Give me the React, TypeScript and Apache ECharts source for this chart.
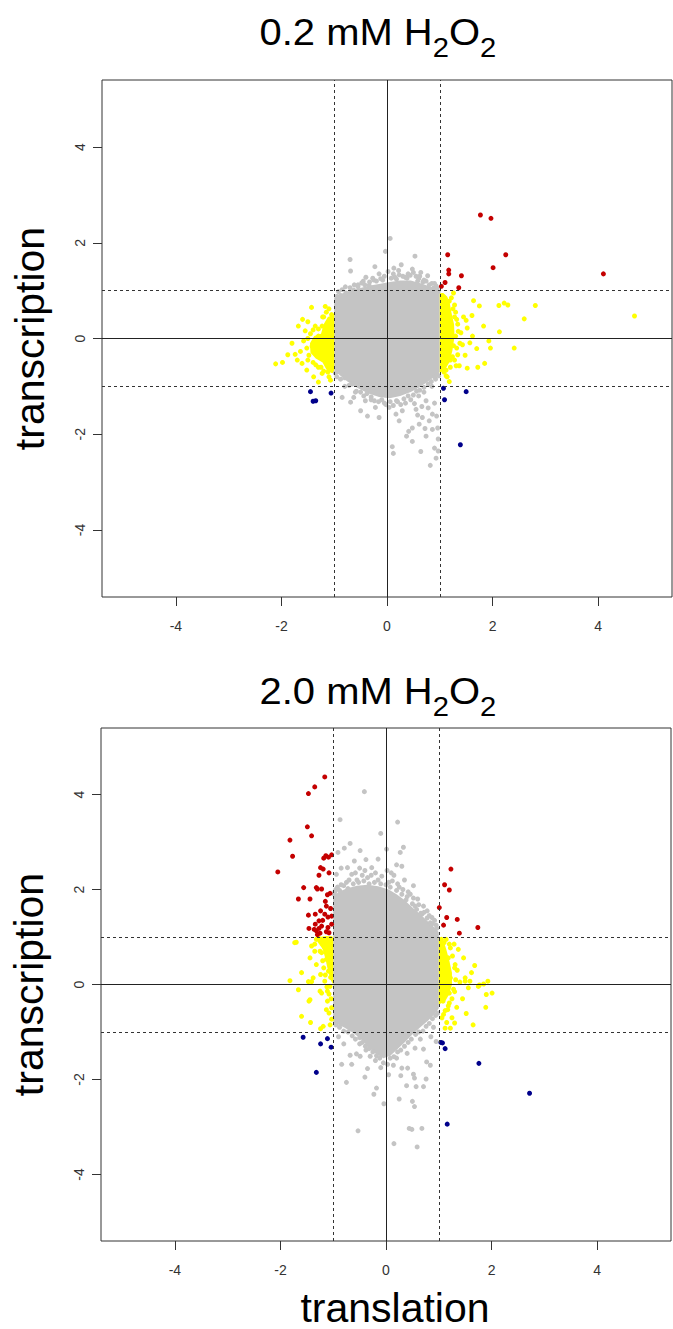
import React, { useEffect, useRef } from "react";
import * as echarts from "echarts";

// ---------- axes ----------
const AXIS_MIN = -5.4;
const AXIS_MAX = 5.4;
const X_TICKS = [-4, -2, 0, 2, 4];
const Y_TICKS = [-4, -2, 0, 2, 4];
const SOLID_LINES = [0];
const DASHED_LINES = [-1, 1];
const PANEL_TITLES = ["0.2 mM H", "2.0 mM H"];
const X_NAME = "translation";
const Y_NAME = "transcription";

// ---------- panel A: 0.2 mM ----------
const A_CORE = [
  [-1, 0.85], [-0.9, 0.92], [-0.75, 0.98], [-0.55, 1.04], [-0.35, 1.1], [-0.15, 1.14],
  [0.05, 1.18], [0.25, 1.21], [0.45, 1.21], [0.65, 1.15], [0.85, 1.07], [1, 1.0],
  [1, -0.7], [0.9, -0.8], [0.75, -0.92], [0.6, -1.03], [0.45, -1.12], [0.25, -1.2], [0.05, -1.25],
  [-0.15, -1.22], [-0.35, -1.15], [-0.55, -1.04], [-0.75, -0.9], [-0.9, -0.76], [-1, -0.66],
];
const A_YEL_R = [
  [1, 0.95], [1.1, 0.92], [1.18, 0.8], [1.22, 0.55], [1.27, 0.3], [1.28, 0.05],
  [1.24, -0.25], [1.18, -0.5], [1.1, -0.65], [1, -0.72],
];
const A_YEL_L = [
  [-1, 0.5], [-1.12, 0.45], [-1.2, 0.3], [-1.25, 0.1], [-1.38, 0.05], [-1.46, -0.1],
  [-1.45, -0.3], [-1.35, -0.42], [-1.22, -0.5], [-1.15, -0.65], [-1.05, -0.72], [-1, -0.72],
];
const A_GRAY = [
  [0.06, 2.09], [-0.03, 1.82], [0.53, 1.72], [-0.7, 1.65], [-0.23, 1.5], [-0.69, 1.41],
  [0.13, 1.47], [0.27, 1.54], [0.64, 1.38], [0.77, 1.31], [0.23, 1.33], [-0.08, 1.22],
  [-0.34, 1.11], [-0.63, 1.01], [-0.76, 0.83], [-0.88, 0.9], [-0.79, 1.08], [0.4, 1.35],
  [0.55, 1.3], [-0.45, 1.2], [0.9, 1.15], [0.95, 1.05], [-0.15, 1.35], [0.02, 1.4],
  [-0.95, 0.88], [0.35, 1.28], [0.7, 1.22], [-0.25, 1.22], [-0.55, 1.12], [0.15, 1.28],
  [0.85, 1.15], [0.48, 1.45], [-0.4, 1.28], [0.6, 1.25],
  [-0.92, 0.98], [-0.85, 1.02], [-0.78, 0.95], [-0.7, 1.06], [-0.62, 1.12], [-0.55, 1.08],
  [-0.48, 1.16], [-0.42, 1.12], [-0.33, 1.18], [-0.27, 1.26], [-0.2, 1.2], [-0.12, 1.25],
  [-0.05, 1.3], [0.08, 1.26], [0.12, 1.35], [0.18, 1.24], [0.22, 1.42], [0.3, 1.3],
  [0.38, 1.26], [0.44, 1.32], [0.5, 1.38], [0.58, 1.2], [0.62, 1.3], [0.68, 1.18],
  [0.74, 1.2], [0.8, 1.12], [0.88, 1.05], [0.93, 1.1], [0.97, 0.98],
  [0.1, -2.26], [0.12, -2.4], [0.37, -2.04], [0.48, -2.15], [0.41, -1.94], [0.64, -2.36],
  [0.82, -2.65], [0.93, -2.5], [0.9, -2.29], [0.74, -2.04], [0.61, -1.79], [0.48, -1.87],
  [0.23, -1.72], [0.17, -1.58], [-0.15, -1.65], [-0.37, -1.62], [-0.5, -1.51], [-0.69, -1.33],
  [-0.85, -1.23], [-0.63, -1.23], [-0.41, -1.3], [-0.22, -1.44], [0.04, -1.44], [0.29, -1.51],
  [0.55, -1.48], [0.74, -1.3], [0.86, -1.58], [0.96, -1.87], [0.8, -1.72], [0.67, -1.65],
  [0.35, -1.35], [-0.05, -1.35], [0.6, -1.2], [0.85, -1.0], [-0.8, -1.0], [-0.95, -0.8],
  [0.97, -2.1], [0.97, -2.35], [0.92, -0.85], [0.2, -1.32], [-0.3, -1.28], [0.45, -1.28],
  [0.7, -1.12], [-0.6, -1.12], [0.98, -0.78], [-0.98, -0.72],
  [-0.95, -0.7], [-0.88, -0.85], [-0.8, -0.82], [-0.72, -0.98], [-0.66, -0.95], [-0.58, -1.1],
  [-0.5, -1.12], [-0.44, -1.2], [-0.38, -1.15], [-0.3, -1.22], [-0.24, -1.3], [-0.16, -1.32],
  [-0.1, -1.28], [-0.02, -1.38], [0.06, -1.32], [0.12, -1.4], [0.18, -1.3], [0.26, -1.38],
  [0.32, -1.26], [0.4, -1.2], [0.5, -1.18], [0.56, -1.1], [0.62, -1.08], [0.7, -1.02],
  [0.78, -0.95], [0.84, -0.9], [0.9, -0.8], [0.95, -0.75], [0.52, -1.36], [0.66, -1.42],
  [0.78, -1.45], [0.9, -1.35], [0.94, -1.62], [0.86, -1.9], [0.72, -1.88], [0.58, -1.6],
];
const A_YELLOW = [
  [4.69, 0.47], [2.81, 0.69], [2.6, 0.41], [2.41, -0.2], [2.12, 0.69], [2.22, 0.74],
  [2.29, 0.7], [2.13, 0.14], [1.83, 0.26], [1.64, 0.79], [1.75, 0.68], [1.61, 0.48],
  [1.5, 0.38], [1.93, -0.05], [1.96, -0.2], [1.85, -0.52], [1.72, -0.6], [1.52, -0.62],
  [1.31, -0.57], [1.37, -0.57], [1.14, -0.8], [1.12, -0.66], [1.7, -0.21], [1.57, -0.09],
  [1.38, -0.1], [1.43, -0.13], [1.4, 0.12], [1.34, 0.3], [1.34, -0.34], [1.24, -0.38],
  [1.05, 0.9], [1.1, 0.85], [1.18, 0.78], [1.25, 0.62], [1.3, 0.55], [1.28, 0.45],
  [1.22, 0.2], [1.3, 0.05], [1.26, -0.15], [1.2, -0.45], [1.08, -0.7], [1.15, 0.5],
  [1.45, 0.45], [1.52, 0.22], [1.62, 0.05], [1.48, -0.35], [1.18, -0.9],
  [1.22, 0.85], [1.28, 0.7], [1.32, 0.4], [1.35, 0.15], [1.32, -0.2], [1.28, -0.45],
  [1.2, -0.6], [1.12, -0.78], [1.26, 0.95],
  [-2.11, -0.53], [-1.98, -0.5], [-1.88, -0.34], [-1.74, -0.33], [-1.64, -0.27], [-1.68, 0.26],
  [-1.43, 0.65], [-1.17, 0.67], [-1.1, 0.62], [-1.36, 0.26], [-1.55, 0.16], [-1.61, -0.52],
  [-1.52, -0.66], [-1.39, -0.8], [-1.23, -0.73], [-1.07, -0.87], [-1.3, -0.91], [-1.42, -0.16],
  [-1.31, -0.3], [-1.17, -0.38], [-1.1, -0.13], [-1.14, 0.12], [-1.23, 0.26], [-1.3, 0.05],
  [-1.5, 0.35], [-1.6, 0.4], [-1.45, 0.1], [-1.58, -0.05], [-1.5, -0.45], [-1.25, -0.6],
  [-1.12, -0.7], [-1.05, 0.5], [-1.2, 0.45], [-1.8, -0.1], [-1.7, -0.45], [-1.35, -0.55],
  [-1.15, 0.55], [-1.22, 0.45], [-1.3, 0.2], [-1.4, 0.18], [-1.5, 0.0], [-1.52, -0.2],
  [-1.48, -0.35], [-1.4, -0.5], [-1.3, -0.6], [-1.2, -0.68], [-1.1, -0.8],
];
const A_RED = [
  [1.77, 2.58], [1.97, 2.51], [2.25, 1.75], [2.01, 1.48], [1.15, 1.75], [1.17, 1.43],
  [1.17, 1.35], [1.41, 1.31], [1.1, 1.17], [1.03, 1.09], [1.36, 1.06], [4.1, 1.35],
];
const A_BLUE = [
  [1.07, -1.04], [1.09, -1.28], [1.5, -1.11], [1.39, -2.22],
  [-1.45, -1.11], [-1.4, -1.31], [-1.35, -1.3], [-1.06, -1.14],
];

// ---------- panel B: 2.0 mM ----------
const B_CORE = [
  [-1, 1.85], [-0.9, 1.95], [-0.75, 2.02], [-0.55, 2.08], [-0.35, 2.1], [-0.15, 2.07],
  [0.05, 2.0], [0.2, 1.9], [0.35, 1.78], [0.5, 1.62], [0.65, 1.48], [0.8, 1.32], [0.92, 1.2],
  [1, 1.1], [1, -0.5], [0.92, -0.62], [0.8, -0.76], [0.65, -0.9], [0.5, -1.05], [0.35, -1.22],
  [0.2, -1.38], [0.08, -1.5], [-0.05, -1.55], [-0.2, -1.45], [-0.35, -1.3], [-0.5, -1.12],
  [-0.65, -1.0], [-0.8, -0.9], [-1, -0.8],
];
const B_YEL_R = [
  [1, 1.0], [1.08, 0.95], [1.14, 0.75], [1.2, 0.5], [1.25, 0.25], [1.25, 0.0],
  [1.2, -0.2], [1.12, -0.35], [1, -0.42],
];
const B_YEL_L = [
  [-1, 1.0], [-1.12, 1.02], [-1.28, 1.0], [-1.3, 0.9], [-1.2, 0.75], [-1.15, 0.55],
  [-1.1, 0.3], [-1.05, 0.1], [-1, 0.0],
];
const B_GRAY = [
  [-0.41, 4.06], [-0.87, 3.47], [0.22, 3.42], [-0.1, 3.18], [0.01, 2.85], [0.33, 2.89],
  [0.27, 2.78], [-0.68, 2.97], [-0.79, 2.87], [-0.91, 2.78], [-0.49, 2.82], [-0.38, 2.63],
  [-0.15, 2.64], [0.2, 2.52], [0.3, 2.49], [-0.73, 2.46], [-0.94, 2.32], [-0.65, 2.32],
  [-0.27, 2.46], [0.52, 2.08], [0.46, 1.9], [0.71, 1.65], [0.87, 1.41], [0.6, 1.8],
  [0.35, 2.2], [0.1, 2.35], [-0.5, 2.45], [-0.85, 2.1], [0.95, 1.25], [0.78, 1.55],
  [-0.95, 2.0], [-0.75, 2.15], [-0.55, 2.2], [-0.35, 2.25], [-0.15, 2.2], [0.05, 2.15],
  [0.25, 2.05], [0.4, 1.85], [-0.6, 2.6], [-0.2, 2.35], [0.15, 2.3], [-0.85, 2.45],
  [-0.45, 2.3], [0.55, 1.65], [0.68, 1.48], [0.84, 1.3], [-0.97, 1.95],
  [-0.98, 1.9], [-0.92, 2.05], [-0.88, 1.98], [-0.8, 2.08], [-0.72, 2.02], [-0.7, 2.2],
  [-0.62, 2.12], [-0.58, 2.35], [-0.52, 2.15], [-0.42, 2.18], [-0.4, 2.4], [-0.32, 2.12],
  [-0.28, 2.3], [-0.22, 2.15], [-0.1, 2.12], [-0.08, 2.28], [0.0, 2.1], [0.02, 2.4],
  [0.08, 2.05], [0.12, 2.18], [0.2, 1.98], [0.22, 2.12], [0.3, 1.9], [0.32, 2.0],
  [0.38, 1.78], [0.42, 1.95], [0.5, 1.7], [0.52, 1.82], [0.58, 1.58], [0.62, 1.68],
  [0.66, 1.5], [0.72, 1.52], [0.78, 1.4], [0.82, 1.45], [0.88, 1.28], [0.92, 1.35], [0.96, 1.18],
  [-0.68, -1.49], [-0.84, -1.68], [-0.75, -2.06], [-0.56, -1.46], [-0.4, -1.95], [-0.35, -1.77],
  [-0.23, -2.31], [-0.18, -2.18], [-0.04, -2.51], [-0.53, -3.08], [0.15, -3.35], [0.25, -2.41],
  [0.14, -1.7], [0.3, -1.76], [0.41, -1.76], [0.28, -1.92], [0.52, -1.89], [0.54, -1.97],
  [0.39, -2.13], [0.57, -2.15], [0.71, -2.15], [0.76, -1.99], [0.77, -1.63], [0.84, -1.7],
  [0.5, -2.46], [0.54, -2.57], [0.44, -3.03], [0.49, -3.05], [0.68, -3.03], [0.59, -3.42],
  [0.55, -1.34], [0.71, -1.36], [-0.65, -1.68], [-0.49, -1.51], [-0.39, -1.3], [-0.3, -1.51],
  [-0.9, -1.1], [-0.8, -1.25], [0.9, -0.9], [0.95, -1.2], [0.85, -1.1], [-0.1, -1.75],
  [0.05, -1.9], [-0.2, -1.6], [0.2, -1.55], [0.4, -1.45], [-0.5, -1.25], [0.65, -1.15],
  [-0.95, -0.85], [-0.88, -0.9], [-0.8, -0.98], [-0.72, -1.0], [-0.64, -1.08], [-0.58, -1.15],
  [-0.5, -1.12], [-0.45, -1.22], [-0.38, -1.38], [-0.32, -1.35], [-0.25, -1.42], [-0.18, -1.5],
  [-0.12, -1.55], [-0.05, -1.65], [0.03, -1.68], [0.08, -1.55], [0.15, -1.52], [0.22, -1.42],
  [0.28, -1.38], [0.35, -1.3], [0.42, -1.22], [0.48, -1.15], [0.56, -1.05], [0.62, -1.0],
  [0.7, -0.98], [0.76, -0.88], [0.82, -0.82], [0.88, -0.72], [0.94, -0.65], [0.98, -0.6],
];
const B_YELLOW = [
  [-1.7, 0.89], [-1.82, 0.08], [-1.66, -0.11], [-1.6, 0.25], [-1.44, 0.56], [-1.41, 0.81],
  [-1.32, 0.95], [-1.22, 0.92], [-1.16, 0.77], [-1.06, 0.85], [-1.22, 0.67], [-1.13, 0.53],
  [-1.06, 0.42], [-1.32, 0.42], [-1.24, 0.21], [-1.09, 0.28], [-1.16, 0.07], [-1.06, -0.04],
  [-1.47, 0.06], [-1.44, -0.32], [-1.25, -0.14], [-1.38, 0.14], [-1.46, -0.35], [-1.41, 0.06],
  [-1.11, -0.14], [-1.22, -0.18], [-1.6, -0.67], [-1.43, -0.8], [-1.11, -0.35], [-1.13, -0.53],
  [-1.03, -0.49], [-1.03, -0.73], [-1.19, -0.88], [-1.24, -0.93], [-1.06, -0.85], [-1.73, 0.88],
  [-1.28, 0.98], [-1.15, 0.95], [-1.05, 0.97], [-1.1, 0.65], [-1.2, 0.85], [-1.35, 0.7],
  [-1.05, 0.15], [-1.18, 0.35], [-1.08, -0.6],
  [-1.35, 0.85], [-1.25, 0.7], [-1.2, 0.5], [-1.15, 0.2], [-1.12, -0.05], [-1.08, -0.2], [-1.04, -0.3],
  [1.29, 0.85], [1.37, 0.74], [1.47, 0.56], [1.31, 0.42], [1.5, 0.14], [1.59, 0.07],
  [1.75, -0.04], [1.85, 0.01], [1.93, 0.07], [2.01, -0.18], [1.9, -0.21], [1.56, -0.07],
  [1.22, 0.14], [1.18, 0.56], [1.22, 0.77], [1.5, 0.07], [1.77, -0.01], [1.89, -0.48],
  [1.52, -0.61], [1.65, -0.85], [1.3, -0.81], [1.22, -0.92], [1.12, -0.92], [1.17, -0.53],
  [1.34, -0.48], [1.2, -0.39], [1.09, -0.63], [1.2, -0.18], [1.08, -0.35], [1.06, -0.7],
  [1.05, 0.95], [1.1, 0.88], [1.35, 0.3], [1.4, 0.05], [1.62, 0.25], [1.28, -0.1],
  [1.45, -0.3], [1.68, 0.4], [1.15, -0.8], [1.25, -0.7],
  [1.14, 0.95], [1.2, 0.85], [1.26, 0.6], [1.3, 0.35], [1.32, 0.1], [1.3, -0.15],
  [1.25, -0.3], [1.18, -0.45], [1.12, -0.55],
];
const B_RED = [
  [-1.16, 4.37], [-1.35, 4.16], [-1.47, 4.02], [-1.49, 3.32], [-1.41, 3.13], [-1.82, 3.04],
  [-1.77, 2.7], [-2.05, 2.37], [-1.14, 2.71], [-1.09, 2.68], [-1.03, 2.73], [-1.18, 2.66],
  [-1.24, 2.46], [-1.19, 2.43], [-1.08, 2.35], [-1.27, 2.3], [-1.56, 2.04], [-1.32, 2.04],
  [-1.3, 2.01], [-1.22, 2.01], [-1.11, 1.89], [-1.06, 1.92], [-1.66, 1.8], [-1.44, 1.8],
  [-1.13, 1.65], [-1.24, 1.55], [-1.47, 1.46], [-1.34, 1.48], [-1.27, 1.34], [-1.16, 1.48],
  [-1.1, 1.42], [-1.03, 1.44], [-1.34, 1.27], [-1.27, 1.18], [-1.46, 1.18], [-1.32, 1.13],
  [-1.13, 1.11], [-1.08, 1.09], [-1.03, 1.27], [-1.22, 1.23], [-1.36, 1.16], [-1.2, 1.35],
  [-1.05, 1.6], [-1.15, 1.75], [-1.3, 1.05], [-1.25, 1.08], [-1.1, 1.2],
  [1.23, 2.43], [1.11, 2.1], [1.2, 1.99], [1.01, 1.62], [1.15, 1.41], [1.35, 1.37],
  [1.09, 1.25], [1.74, 1.2], [1.39, 1.08],
];
const B_BLUE = [
  [-1.57, -1.11], [-1.24, -1.25], [-1.11, -1.14], [-1.04, -1.32], [-1.32, -1.85],
  [1.04, -1.22], [1.07, -1.23], [1.12, -1.35], [1.76, -1.66], [2.72, -2.29], [1.16, -2.94],
];

// ---------- styling ----------
const FONT = "'Liberation Sans', Arial, Helvetica, sans-serif";
const GRAY = "#c4c4c4";
const YELLOW = "#ffff00";
const RED = "#c40000";
const BLUE = "#00008b";
const INK = "#333333";

const GRIDS = [
  { left: 102, top: 80, width: 570, height: 517 },
  { left: 101, top: 728, width: 570, height: 517 },
];
const TITLE_POS = [
  { x: 378, y: 14 },
  { x: 378, y: 673 },
];

function polygonSeries(idx: number, pts: number[][], color: string) {
  return {
    type: "custom",
    xAxisIndex: idx,
    yAxisIndex: idx,
    data: pts,
    silent: true,
    z: 1,
    renderItem: (params: any, api: any) => {
      if (params.dataIndex !== 0) return null;
      return {
        type: "polygon",
        shape: { points: pts.map((p) => api.coord(p)) },
        style: { fill: color },
      };
    },
  };
}

function dotSeries(idx: number, data: number[][], color: string, z: number, extra: any = {}) {
  return {
    type: "scatter",
    xAxisIndex: idx,
    yAxisIndex: idx,
    data,
    symbol: "circle",
    symbolSize: 5,
    itemStyle: { color, opacity: 1 },
    silent: true,
    z,
    ...extra,
  };
}

function refLines() {
  return {
    silent: true,
    symbol: ["none", "none"],
    label: { show: false },
    animation: false,
    lineStyle: { color: INK, width: 1, type: [3, 3] },
    emphasis: { disabled: true },
    data: [
      ...SOLID_LINES.map((v) => ({ xAxis: v, lineStyle: { type: "solid", color: "#222" } })),
      ...SOLID_LINES.map((v) => ({ yAxis: v, lineStyle: { type: "solid", color: "#222" } })),
      ...DASHED_LINES.map((v) => ({ xAxis: v })),
      ...DASHED_LINES.map((v) => ({ yAxis: v })),
    ],
  };
}

function panelSeries(
  idx: number,
  core: number[][],
  yl: number[][],
  yr: number[][],
  gray: number[][],
  yellow: number[][],
  red: number[][],
  blue: number[][]
) {
  return [
    polygonSeries(idx, core, GRAY),
    polygonSeries(idx, yl, YELLOW),
    polygonSeries(idx, yr, YELLOW),
    dotSeries(idx, gray, GRAY, 2),
    dotSeries(idx, yellow, YELLOW, 3),
    dotSeries(idx, red, RED, 4),
    dotSeries(idx, blue, BLUE, 4, { markLine: refLines() }),
  ];
}

function xAxis(idx: number, withName: boolean) {
  return {
    gridIndex: idx,
    type: "value",
    min: AXIS_MIN,
    max: AXIS_MAX,
    name: withName ? X_NAME : "",
    nameLocation: "middle",
    nameGap: 46,
    nameTextStyle: { fontSize: 41, color: "#000", fontFamily: FONT, padding: [0, 0, 0, 18] },
    axisLine: { show: false, onZero: false },
    axisTick: { show: true, length: 9, customValues: X_TICKS, lineStyle: { color: INK } },
    axisLabel: { customValues: X_TICKS, margin: 22, fontSize: 14, color: INK, fontFamily: FONT },
    splitLine: { show: false },
  };
}

function yAxis(idx: number) {
  return {
    gridIndex: idx,
    type: "value",
    min: AXIS_MIN,
    max: AXIS_MAX,
    name: Y_NAME,
    nameLocation: "middle",
    nameRotate: 90,
    nameGap: 52,
    nameTextStyle: { fontSize: 41, color: "#000", fontFamily: FONT },
    axisLine: { show: false, onZero: false },
    axisTick: { show: true, length: 9, customValues: Y_TICKS, lineStyle: { color: INK } },
    axisLabel: { customValues: Y_TICKS, rotate: 90, margin: 15, fontSize: 14, color: INK, fontFamily: FONT },
    splitLine: { show: false },
  };
}

function titleGraphic(i: number) {
  return {
    type: "text",
    x: TITLE_POS[i].x,
    y: TITLE_POS[i].y,
    scaleX: 1.08,
    silent: true,
    style: {
      text: `{m|${PANEL_TITLES[i]}}{s|2}{m|O}{s|2}{z| }`,
      align: "center",
      verticalAlign: "top",
      fill: "#000",
      fontFamily: FONT,
      rich: {
        m: { fontSize: 37, lineHeight: 38, verticalAlign: "top", fill: "#000", fontFamily: FONT },
        s: { fontSize: 27, lineHeight: 27, verticalAlign: "bottom", fill: "#000", fontFamily: FONT },
        z: { fontSize: 1, lineHeight: 47 },
      },
    },
  };
}

export default function App() {
  const ref = useRef<HTMLDivElement>(null);
  useEffect(() => {
    if (!ref.current) return;
    const chart = echarts.init(ref.current, null, { renderer: "svg" });
    chart.setOption({
      animation: false,
      backgroundColor: "#ffffff",
      grid: GRIDS.map((g) => ({ ...g, show: true, borderColor: INK, borderWidth: 1, backgroundColor: "transparent" })),
      xAxis: [xAxis(0, false), xAxis(1, true)],
      yAxis: [yAxis(0), yAxis(1)],
      series: [
        ...panelSeries(0, A_CORE, A_YEL_L, A_YEL_R, A_GRAY, A_YELLOW, A_RED, A_BLUE),
        ...panelSeries(1, B_CORE, B_YEL_L, B_YEL_R, B_GRAY, B_YELLOW, B_RED, B_BLUE),
      ],
      graphic: [titleGraphic(0), titleGraphic(1)],
    });
    return () => chart.dispose();
  }, []);
  return (
    <div
      ref={ref}
      style={{ position: "absolute", left: 0, top: 0, width: 673, height: 1329, background: "#fff" }}
    />
  );
}
